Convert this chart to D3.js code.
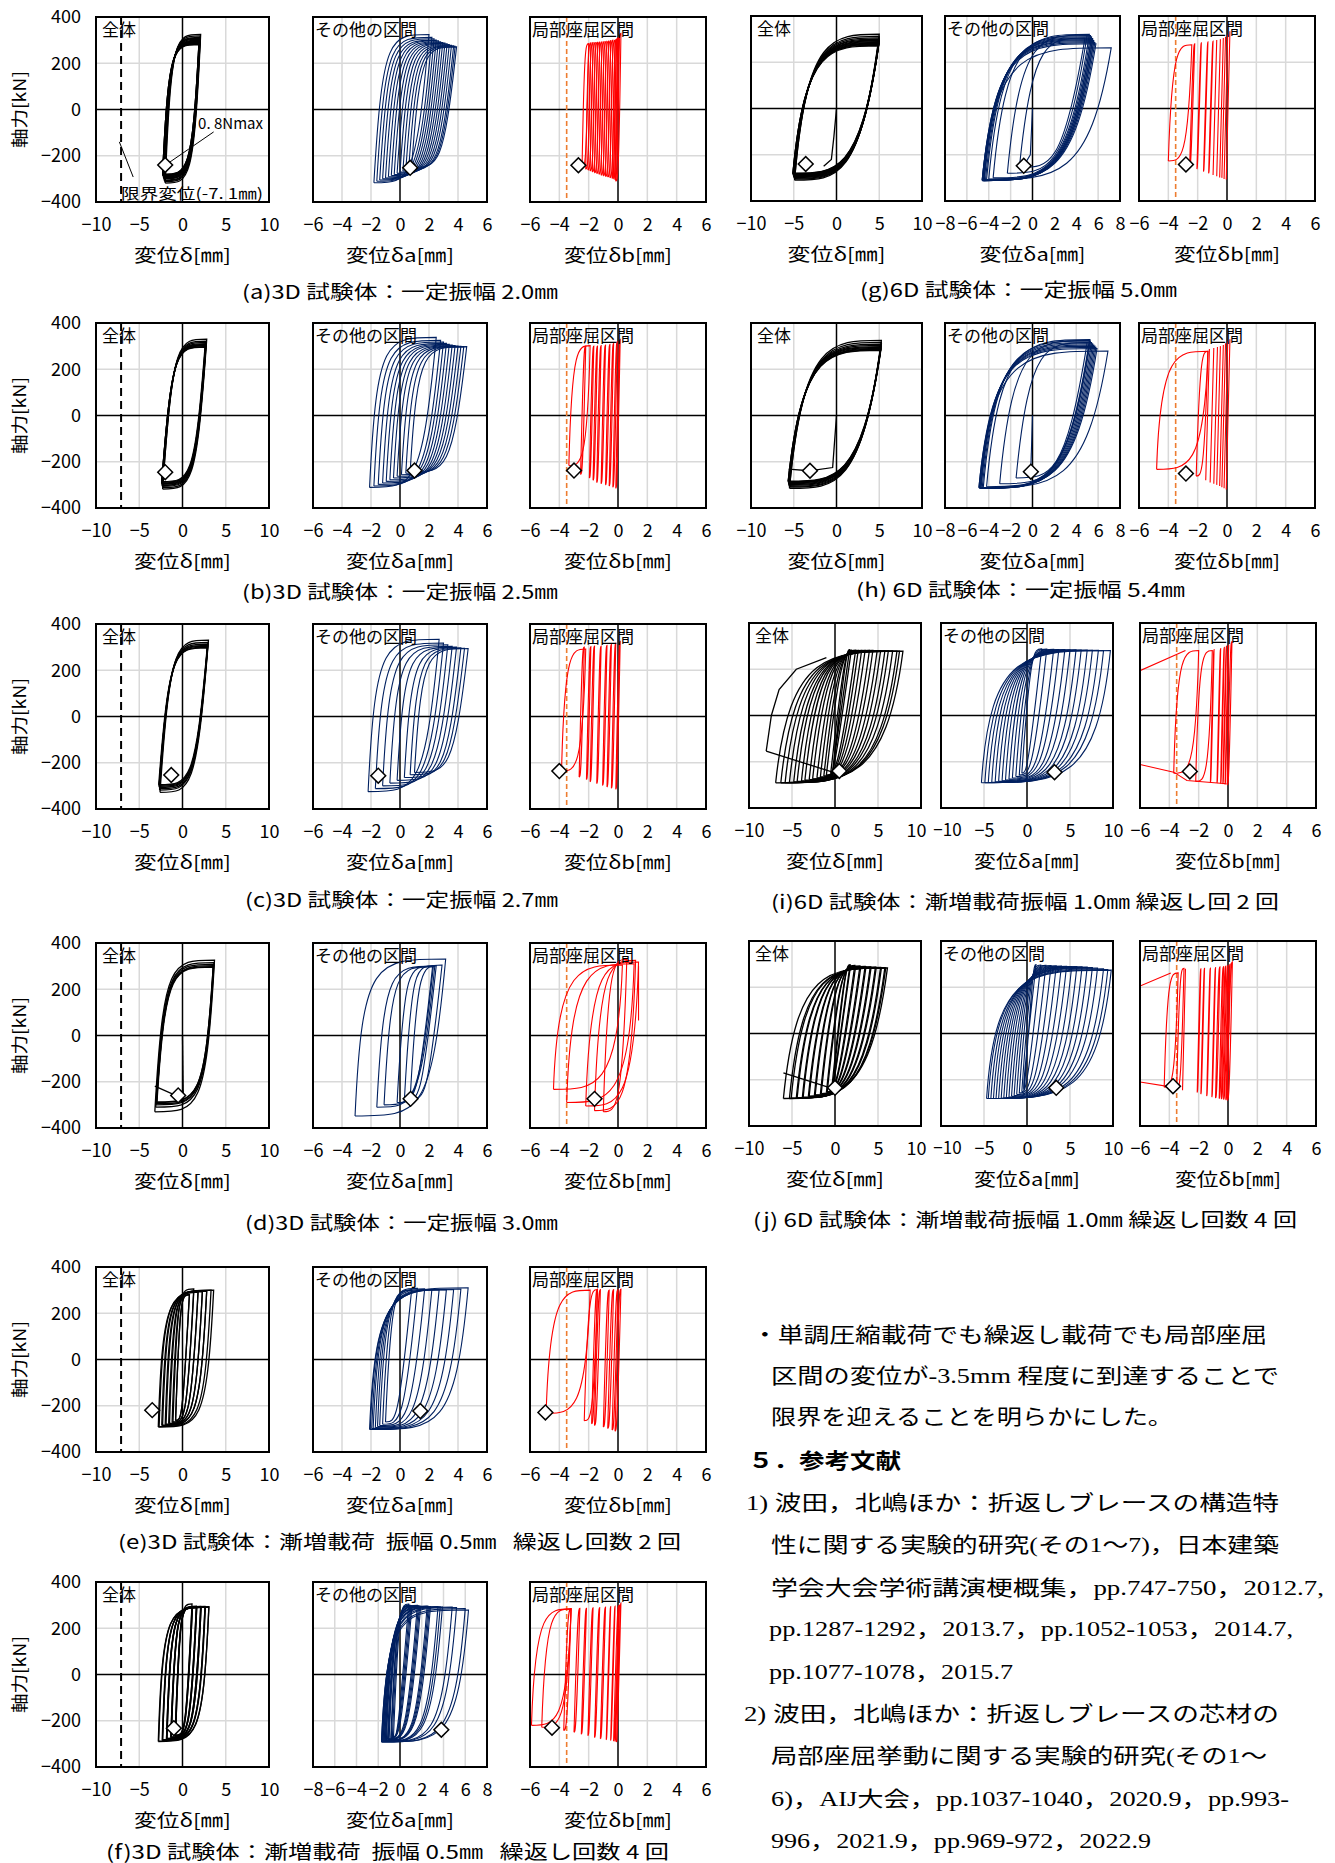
<!DOCTYPE html>
<html>
<head>
<meta charset="utf-8">
<script src="https://cdn.jsdelivr.net/npm/d3@7"></script>
<style>
body { margin: 0; background: #fff; }
svg text { white-space: pre; }
</style>
</head>
<body>
<div id="chart"></div>
<script>
// axis ticks and labels
const Y_TICKS = [-400, -200, 0, 200, 400];
const X_TICKS_10 = [-10, -5, 0, 5, 10];
const X_TICKS_8 = [-8, -6, -4, -2, 0, 2, 4, 6, 8];
const X_TICKS_6 = [-6, -4, -2, 0, 2, 4, 6];
const PANEL_NAMES = ["全体", "その他の区間", "局部座屈区間"];
const X_TITLES = ["変位δ[㎜]", "変位δa[㎜]", "変位δb[㎜]"];
const Y_TITLE = "軸力[kN]";
const LIMIT_TOTAL = -7.1;   // 限界変位 (全体)
const LIMIT_LOCAL = -3.5;   // 局部座屈区間の限界

const GROUP_IDS = ["a", "b", "c", "d", "e", "f", "g", "h", "i", "j"];
const CAPTIONS = [
    "(a)3D 試験体：一定振幅 2.0㎜",
    "(b)3D 試験体：一定振幅 2.5㎜",
    "(c)3D 試験体：一定振幅 2.7㎜",
    "(d)3D 試験体：一定振幅 3.0㎜",
    "(e)3D 試験体：漸増載荷  振幅 0.5㎜   繰返し回数 2 回",
    "(f)3D 試験体：漸増載荷  振幅 0.5㎜   繰返し回数 4 回",
    "(g)6D 試験体：一定振幅 5.0㎜",
    "(h) 6D 試験体：一定振幅 5.4㎜",
    "(i)6D 試験体：漸増載荷振幅 1.0㎜ 繰返し回 2 回",
    "(j) 6D 試験体：漸増載荷振幅 1.0㎜ 繰返し回数 4 回"
];
const X_DOMAINS = [
    [[-10, 10], [-6, 6], [-6, 6]],
    [[-10, 10], [-6, 6], [-6, 6]],
    [[-10, 10], [-6, 6], [-6, 6]],
    [[-10, 10], [-6, 6], [-6, 6]],
    [[-10, 10], [-6, 6], [-6, 6]],
    [[-10, 10], [-8, 8], [-6, 6]],
    [[-10, 10], [-8, 8], [-6, 6]],
    [[-10, 10], [-8, 8], [-6, 6]],
    [[-10, 10], [-10, 10], [-6, 6]],
    [[-10, 10], [-10, 10], [-6, 6]]
];

// hysteresis loops, one row per cycle: [xLeft, xRight, yBottom, yTop]  (mm, kN)
const A1 = [[-2.0,2.1,-318,325],[-2.05,2.05,-312,318],[-2.1,2.05,-308,312],[-2.1,2.0,-305,308],[-2.15,2.0,-300,304],[-2.15,2.0,-298,300],[-2.2,2.0,-295,297],[-2.2,1.95,-292,294],[-2.2,1.95,-290,291],[-2.25,1.95,-288,289],[-2.25,1.95,-286,287],[-2.3,1.9,-284,285],[-2.3,1.9,-282,283],[-2.3,1.9,-280,281]];
const A2 = [[-1.8,2.0,-317,324],[-1.6,2.2,-310,312],[-1.4,2.35,-305,306],[-1.2,2.5,-300,300],[-1.0,2.65,-296,297],[-0.8,2.8,-291,293],[-0.6,2.95,-286,290],[-0.4,3.1,-281,287],[-0.2,3.25,-276,284],[0.0,3.4,-271,281],[0.2,3.55,-266,278],[0.4,3.7,-261,275],[0.6,3.8,-256,273],[0.8,3.9,-250,271]];
const A3 = [[-0.15,0.2,-310,330],[-0.2,0.1,-305,315],[-0.3,0.0,-300,310],[-0.4,-0.1,-298,305],[-0.55,-0.2,-295,300],[-0.7,-0.35,-292,300],[-0.85,-0.5,-290,298],[-1.0,-0.65,-287,296],[-1.15,-0.8,-284,295],[-1.3,-0.95,-280,294],[-1.45,-1.1,-277,293],[-1.6,-1.25,-274,292],[-1.75,-1.4,-270,291],[-1.9,-1.55,-266,290],[-2.05,-1.7,-262,289],[-2.2,-1.85,-258,288],[-2.45,-2.0,-252,285]];
const B1 = [[-2.3,2.8,-318,330],[-2.3,2.75,-312,322],[-2.35,2.75,-306,316],[-2.35,2.7,-302,311],[-2.35,2.7,-298,307],[-2.4,2.7,-295,304],[-2.4,2.65,-292,301],[-2.4,2.65,-289,298],[-2.4,2.6,-286,296]];
const B2 = [[-2.1,2.5,-311,338],[-1.8,2.8,-305,325],[-1.5,3.0,-298,318],[-1.2,3.2,-292,312],[-0.95,3.4,-285,308],[-0.7,3.6,-278,305],[-0.45,3.8,-270,302],[-0.2,4.0,-263,300],[0.1,4.2,-256,299],[0.4,4.4,-250,298],[0.7,4.6,-245,298]];
const B3 = [[-0.15,0.15,-315,330],[-0.35,-0.05,-310,320],[-0.6,-0.3,-305,312],[-0.85,-0.55,-300,308],[-1.15,-0.85,-295,305],[-1.45,-1.15,-290,302],[-1.7,-1.4,-280,300],[-1.95,-1.65,-270,300],[-2.55,-2.2,-255,300],[-3.35,-1.9,-216,302]];
const C1 = [[-2.6,3.0,-328,330],[-2.65,2.95,-318,320],[-2.65,2.95,-312,313],[-2.7,2.9,-306,308],[-2.7,2.9,-302,304],[-2.7,2.9,-298,300],[-2.75,2.85,-295,297]];
const C2 = [[-2.2,2.7,-325,334],[-1.7,3.0,-312,318],[-1.2,3.3,-300,310],[-0.7,3.6,-288,304],[-0.2,3.9,-276,300],[0.3,4.2,-264,297],[0.7,4.45,-252,295],[1.0,4.7,-242,294]];
const C3 = [[-0.15,0.15,-315,325],[-0.45,-0.15,-310,318],[-0.75,-0.45,-305,312],[-1.05,-0.75,-298,308],[-1.45,-1.15,-290,305],[-1.9,-1.6,-282,305],[-2.15,-1.85,-272,303],[-2.65,-2.3,-262,300],[-3.85,-2.2,-236,292]];
const D1 = [[-3.2,3.7,-330,326],[-3.1,3.65,-310,315],[-3.05,3.6,-300,308],[-3.0,3.6,-295,302],[-3.0,3.55,-290,298],[-2.95,3.55,-287,296]];
const D2 = [[-3.1,3.15,-348,331],[-1.6,2.4,-310,300],[-1.1,2.3,-300,298],[-0.2,2.25,-290,300],[0.3,2.5,-282,302],[0.7,2.9,-275,305]];
const D3 = [[-1.0,0.6,-330,330],[-1.6,1.2,-325,325],[-2.2,1.4,-305,318],[-3.5,1.1,-290,310],[-4.4,0.3,-233,305]];
const E1 = [[-0.8,0.8,-263,280],[-0.8,0.8,-265,282],[-1.1,1.3,-270,305],[-1.2,1.3,-272,290],[-1.5,1.8,-276,295],[-1.6,1.8,-278,292],[-1.9,2.3,-280,297],[-2.0,2.3,-282,294],[-2.3,2.8,-284,298],[-2.4,2.8,-286,296],[-2.7,3.3,-290,300],[-2.8,3.6,-292,300]];
const E2 = [[-1.0,0.8,-270,300],[-1.2,1.2,-280,308],[-1.4,1.7,-286,306],[-1.55,2.2,-290,304],[-1.7,2.7,-294,302],[-1.85,3.2,-297,302],[-1.95,3.7,-299,303],[-2.05,4.2,-301,305],[-2.1,4.7,-303,310]];
const E3 = [[-0.2,0.2,-310,305],[-0.4,0.0,-305,303],[-0.7,-0.3,-298,302],[-1.0,-0.6,-292,300],[-1.6,-1.2,-285,302],[-1.8,-1.4,-278,305],[-2.3,-1.4,-265,303],[-4.9,-1.9,-233,300]];
const F1 = [[-0.8,1.1,-262,305],[-0.8,1.1,-265,292],[-0.85,1.15,-266,290],[-0.85,1.15,-267,289],[-1.3,1.6,-270,296],[-1.3,1.6,-272,292],[-1.35,1.65,-273,291],[-1.35,1.65,-274,290],[-1.8,2.1,-276,294],[-1.8,2.1,-278,292],[-1.85,2.15,-279,291],[-1.85,2.15,-280,290],[-2.3,2.6,-282,294],[-2.3,2.6,-284,292],[-2.35,2.65,-285,291],[-2.75,3.05,-288,293],[-2.8,3.05,-290,291]];
const F2 = [[-0.6,0.8,-270,305],[-0.7,0.9,-272,300],[-0.8,1.0,-274,298],[-0.85,1.1,-276,297],[-1.0,1.6,-278,299],[-1.05,1.7,-280,297],[-1.1,1.8,-281,296],[-1.15,1.9,-282,295],[-1.25,2.5,-284,296],[-1.3,2.6,-285,295],[-1.35,2.7,-286,294],[-1.4,2.8,-287,294],[-1.45,3.5,-288,294],[-1.5,3.7,-289,293],[-1.55,3.9,-290,292],[-1.6,4.8,-290,292],[-1.65,5.2,-291,290],[-1.7,6.0,-292,285],[-1.7,6.3,-292,279]];
const F3 = [[-0.1,0.2,-292,310],[-0.2,0.1,-290,300],[-0.3,0.05,-288,298],[-0.5,-0.2,-285,296],[-0.8,-0.5,-282,294],[-1.2,-0.85,-278,292],[-1.6,-1.25,-272,290],[-2.05,-1.7,-265,288],[-2.5,-2.15,-258,286],[-3.0,-2.6,-250,286],[-3.7,-3.2,-242,285],[-5.2,-3.2,-228,284],[-5.9,-3.2,-220,284]];
const G1 = [[-4.9,5.0,-310,321],[-4.9,5.0,-305,312],[-4.95,5.0,-302,305],[-4.95,5.0,-299,300],[-5.0,5.0,-296,296],[-5.0,5.0,-294,292],[-5.0,4.95,-292,289],[-5.05,4.95,-290,286],[-5.05,4.95,-288,283],[-5.05,4.95,-286,280],[-5.1,4.95,-284,277],[-5.1,4.9,-282,274],[-5.1,4.9,-280,271]];
const G2 = [[-1.2,4.8,-255,305],[-2.3,5.0,-280,318],[-3.6,5.2,-300,321],[-4.0,5.3,-305,315],[-4.2,5.4,-308,310],[-4.3,5.4,-310,306],[-4.4,5.5,-311,302],[-4.45,5.5,-312,298],[-4.5,5.6,-312,294],[-4.55,5.6,-312,290],[-4.6,5.7,-312,285],[-4.6,5.8,-310,280],[-4.6,7.2,-308,263]];
const G3 = [[-0.05,0.2,-307,334],[-0.2,0.05,-305,320],[-0.35,-0.1,-300,310],[-0.5,-0.25,-298,305],[-0.7,-0.45,-293,300],[-0.95,-0.7,-288,296],[-1.25,-0.95,-280,292],[-1.6,-1.3,-272,288],[-2.05,-1.75,-262,284],[-2.55,-2.2,-256,280],[-4.0,-2.4,-227,276]];
const H1 = [[-5.5,5.25,-315,325],[-5.5,5.25,-310,316],[-5.55,5.25,-306,309],[-5.55,5.2,-302,303],[-5.6,5.2,-298,298],[-5.6,5.2,-295,294],[-5.6,5.2,-292,290],[-5.65,5.2,-289,287],[-5.65,5.15,-286,284],[-5.65,5.15,-284,282]];
const H2 = [[-1.5,5.0,-270,315],[-3.0,5.2,-295,325],[-4.2,5.25,-308,328],[-4.5,5.3,-312,322],[-4.6,5.4,-314,316],[-4.7,5.5,-315,310],[-4.75,5.6,-315,305],[-4.8,5.7,-315,300],[-4.85,5.8,-314,295],[-4.9,5.9,-313,290],[-4.9,6.9,-312,279]];
const H3 = [[-0.05,0.2,-320,330],[-0.2,0.05,-315,320],[-0.35,-0.1,-310,312],[-0.5,-0.25,-305,305],[-0.7,-0.45,-300,300],[-0.9,-0.65,-295,296],[-1.15,-0.9,-290,292],[-1.45,-1.2,-280,288],[-2.1,-1.3,-262,278],[-4.8,-1.3,-233,278]];
const I1 = [[-0.3,1.7,-248,285],[-0.5,1.9,-250,283],[-1.0,2.4,-258,283],[-1.3,2.7,-262,282],[-1.7,3.1,-266,282],[-2.1,3.5,-270,281],[-2.6,4.0,-274,281],[-3.0,4.4,-277,281],[-3.5,4.9,-280,280],[-3.9,5.3,-283,280],[-4.4,5.8,-285,279],[-4.8,6.2,-287,279],[-5.3,6.7,-289,279],[-5.8,7.2,-290,278],[-6.3,7.5,-291,278],[-6.9,7.9,-291,278]];
const I2 = [[-0.6,1.7,-250,288],[-0.9,2.3,-258,287],[-1.3,3.1,-264,286],[-1.7,3.7,-270,285],[-2.1,4.4,-275,285],[-2.5,5.0,-279,284],[-2.9,5.7,-282,284],[-3.3,6.3,-285,283],[-3.7,7.0,-287,283],[-4.1,7.6,-289,282],[-4.5,8.3,-290,282],[-4.9,8.9,-291,281],[-5.3,9.7,-291,281]];
const I3 = [[-0.05,0.27,-300,320],[-0.2,0.05,-298,305],[-0.35,-0.1,-296,300],[-0.5,-0.25,-294,295],[-0.75,-0.5,-292,290],[-1.2,-0.95,-290,285],[-2.2,-1.07,-285,281],[-3.7,-2.0,-250,281]];
const J1 = [[-0.3,1.75,-242,298],[-0.4,1.8,-245,292],[-0.9,2.3,-252,294],[-1.0,2.4,-255,290],[-1.6,2.9,-260,292],[-1.7,3.0,-262,289],[-2.3,3.5,-266,290],[-2.4,3.6,-268,288],[-3.0,4.1,-271,288],[-3.1,4.2,-273,287],[-3.7,4.7,-275,287],[-3.8,4.8,-277,286],[-4.4,5.3,-278,286],[-4.5,5.4,-279,285],[-5.1,5.8,-280,285],[-5.3,5.9,-281,284],[-6.0,6.1,-281,284]];
const J2 = [[-0.3,1.05,-245,298],[-0.6,1.6,-252,296],[-0.9,2.2,-258,295],[-1.2,2.8,-264,294],[-1.5,3.4,-268,293],[-1.8,4.0,-272,292],[-2.1,4.6,-275,291],[-2.4,5.2,-277,290],[-2.7,5.8,-279,289],[-3.0,6.4,-280,288],[-3.3,7.0,-281,287],[-3.6,7.6,-281,285],[-3.9,8.2,-281,283],[-4.2,8.9,-281,280],[-4.5,9.4,-281,277],[-4.7,9.8,-281,274]];
const J3 = [[-0.05,0.3,-289,310],[-0.15,0.15,-287,300],[-0.3,0.0,-285,295],[-0.45,-0.15,-283,292],[-0.6,-0.3,-281,290],[-0.85,-0.55,-279,288],[-1.1,-0.85,-275,285],[-1.45,-1.2,-270,283],[-1.85,-1.6,-262,282],[-2.1,-1.85,-255,280],[-3.1,-2.9,-245,280],[-3.5,-3.0,-240,282],[-4.35,-3.4,-232,262]];

// unloading / reloading widths per panel: [eUp, eDown, roundness]
const SHAPES = [
    [[0.7, 0.8, 0.15], [0.6, 0.9, 0.15], [0.15, 0.15, 0.35]],
    [[1.2, 1.2, 0.15], [0.5, 1.0, 0.15], [0.2, 0.2, 0.35]],
    [[1.2, 1.4, 0.15], [0.5, 1.0, 0.15], [0.2, 0.2, 0.35]],
    [[1.0, 1.0, 0.15], [0.5, 1.0, 0.15], [0.3, 0.3, 0.35]],
    [[0.5, 0.8, 0.15], [0.4, 0.9, 0.2], [0.25, 0.25, 0.35]],
    [[0.5, 0.7, 0.15], [0.5, 1.0, 0.2], [0.25, 0.25, 0.35]],
    [[1.4, 2.2, 0.35], [1.2, 2.0, 0.3], [0.25, 0.25, 0.35]],
    [[1.6, 2.3, 0.35], [1.2, 2.0, 0.3], [0.25, 0.25, 0.35]],
    [[1.6, 2.0, 0.35], [1.0, 1.6, 0.3], [0.2, 0.2, 0.35]],
    [[1.5, 2.0, 0.35], [1.0, 1.6, 0.3], [0.2, 0.2, 0.35]]
];

// 0.8Nmax points (◇)
const DIAMONDS = [
    [[-2.0, -240], [0.7, -252], [-2.7, -241]],
    [[-2.0, -245], [1.0, -238], [-3.0, -238]],
    [[-1.3, -253], [-1.5, -256], [-4.0, -236]],
    [[-0.5, -259], [0.73, -274], [-1.6, -274]],
    [[-3.5, -219], [1.4, -223], [-4.95, -229]],
    [[-1.0, -232], [3.8, -239], [-4.5, -230]],
    [[-3.6, -240], [-0.8, -248], [-2.8, -242]],
    [[-3.1, -239], [-0.15, -243], [-2.8, -251]],
    [[0.5, -240], [3.2, -245], [-2.6, -242]],
    [[0.0, -235], [3.4, -235], [-3.75, -228]]
];

// open traces that are not closed cycles: [group, panel, points]
const EXTRAS = [
    ["d", 0, [[0, 0], [0.1, -290]]],
    ["d", 0, [[-3.2, -219], [-0.6, -262]]],
    ["d", 2, [[1.4, 300], [1.4, 65]]],
    ["g", 0, [[0, 0], [-0.3, -120], [-0.6, -220], [-1.5, -250]]],
    ["g", 1, [[0, 0], [-0.2, -200], [-0.8, -248]]],
    ["h", 0, [[0, 0], [-0.45, -225], [-3.2, -239], [-5.6, -232]]],
    ["h", 1, [[0, 0], [-0.15, -222]]],
    ["i", 0, [[-8.0, -154], [0, -248]]],
    ["i", 0, [[-8.0, -154], [-7.4, 0], [-6.5, 112], [-4.5, 200], [-1.0, 250]]],
    ["i", 2, [[-2.9, 281], [-6.0, 194], [-6.5, 185]]],
    ["i", 2, [[-0.1, -295], [-2.8, -281], [-3.7, -245], [-6.0, -212], [-6.5, -205]]],
    ["j", 0, [[-6.0, -170], [0, -242]]],
    ["j", 2, [[-3.9, 262], [-6.0, 205], [-6.5, 190]]],
    ["j", 2, [[-3.8, -232], [-6.0, -210], [-6.5, -205]]]
];

const BODY_LINES = [
    "・単調圧縮載荷でも繰返し載荷でも局部座屈",
    "区間の変位が-3.5mm 程度に到達することで",
    "限界を迎えることを明らかにした。",
    "５．参考文献",
    "1) 波田，北嶋ほか：折返しブレースの構造特",
    "性に関する実験的研究(その1～7)，日本建築",
    "学会大会学術講演梗概集，pp.747-750，2012.7,",
    "pp.1287-1292，2013.7，pp.1052-1053，2014.7,",
    "pp.1077-1078，2015.7",
    "2) 波田，北嶋ほか：折返しブレースの芯材の",
    "局部座屈挙動に関する実験的研究(その1～",
    "6)，AIJ大会，pp.1037-1040，2020.9，pp.993-",
    "996，2021.9，pp.969-972，2022.9"
];

const LOOPS = [
    [A1, A2, A3], [B1, B2, B3], [C1, C2, C3], [D1, D2, D3], [E1, E2, E3],
    [F1, F2, F3], [G1, G2, G3], [H1, H2, H3], [I1, I2, I3], [J1, J2, J3]
];

// ---------- layout ----------
const FONT = "'Noto Sans CJK JP', 'Noto Sans', sans-serif";
const SERIF = "'Liberation Serif', 'Noto Sans CJK JP', serif";
const COLORS = ["#000000", "#002060", "#ff0000"];
const PANEL_H = 185;
const LEFT_X = [[96, 269], [313, 487], [530, 706]];
const RIGHT_X = [[751, 922], [945, 1120], [1139, 1315]];
const RIGHT_X2 = [[749, 921], [941, 1113], [1140, 1316]];
const GROUP_LAYOUT = [
    {top: 17, xs: LEFT_X, cap: [242, 558, 292], yLabels: true},
    {top: 323, xs: LEFT_X, cap: [242, 558, 592], yLabels: true},
    {top: 624, xs: LEFT_X, cap: [245, 558, 900], yLabels: true},
    {top: 943, xs: LEFT_X, cap: [245, 558, 1223], yLabels: true},
    {top: 1267, xs: LEFT_X, cap: [118, 681, 1542], yLabels: true},
    {top: 1582, xs: LEFT_X, cap: [106, 669, 1852], yLabels: true},
    {top: 16, xs: RIGHT_X, cap: [860, 1177, 290], yLabels: false},
    {top: 323, xs: RIGHT_X, cap: [856, 1185, 590], yLabels: false},
    {top: 623, xs: RIGHT_X2, cap: [771, 1279, 902], yLabels: false, tight: true},
    {top: 941, xs: RIGHT_X2, cap: [753, 1297, 1220], yLabels: false, tight: true}
];
const TITLE_W = [[97, 108, 108], [98, 106, 106]];
const BODY_LAYOUT = [
    [752, 1267, 1342], [771, 1279, 1383], [771, 1173, 1424], [748, 901, 1468],
    [746, 1279, 1510], [771, 1279, 1552], [771, 1324, 1595], [769, 1293, 1636],
    [769, 1013, 1679], [744, 1279, 1721], [771, 1267, 1763], [771, 1289, 1806],
    [771, 1151, 1848]
];

const svg = d3.select("#chart").append("svg")
    .attr("width", 1335)
    .attr("height", 1863)
    .style("font-family", FONT);

function ticksFor(domain) {
    const span = domain[1] - domain[0];
    if (span === 20) return X_TICKS_10;
    if (span === 16) return X_TICKS_8;
    return X_TICKS_6;
}

// one hysteresis cycle: reloading branch then unloading branch
function loopPath(x, y, d, shape) {
    const [xL, xR, yB, yT] = d;
    const [eUp, eDn, r] = shape;
    const p = d3.path();
    p.moveTo(x(xL), y(yB));
    p.bezierCurveTo(x(xL + eUp), y(yT), x(xL + eUp + r * (xR - xL - eUp)), y(yT), x(xR), y(yT));
    p.bezierCurveTo(x(xR - eDn), y(yB), x(xR - eDn - r * (xR - xL - eDn)), y(yB), x(xL), y(yB));
    return p.toString();
}

function drawPanel(gi, k) {
    const lay = GROUP_LAYOUT[gi];
    const id = GROUP_IDS[gi];
    const [x0, x1] = lay.xs[k];
    const top = lay.top, bottom = lay.top + PANEL_H;
    const domain = X_DOMAINS[gi][k];
    const xTicks = ticksFor(domain);
    const x = d3.scaleLinear().domain(domain).range([x0, x1]);
    const y = d3.scaleLinear().domain([-400, 400]).range([bottom, top]);
    const panel = svg.append("g");

    const clipId = `clip-${id}${k}`;
    panel.append("clipPath").attr("id", clipId)
        .append("rect")
        .attr("x", x0).attr("y", top)
        .attr("width", x1 - x0).attr("height", PANEL_H);

    // grid
    panel.append("g").selectAll("line")
        .data(xTicks.filter(v => v !== 0))
        .join("line")
        .attr("x1", d => x(d)).attr("x2", d => x(d))
        .attr("y1", top).attr("y2", bottom)
        .attr("stroke", "#d9d9d9").attr("stroke-width", 1.5);
    panel.append("g").selectAll("line")
        .data(Y_TICKS.filter(v => v !== 0 && Math.abs(v) !== 400))
        .join("line")
        .attr("x1", x0).attr("x2", x1)
        .attr("y1", d => y(d)).attr("y2", d => y(d))
        .attr("stroke", "#d9d9d9").attr("stroke-width", 1.5);

    // zero axes
    panel.append("line")
        .attr("x1", x(0)).attr("x2", x(0)).attr("y1", top).attr("y2", bottom)
        .attr("stroke", "#000").attr("stroke-width", 1.5);
    panel.append("line")
        .attr("x1", x0).attr("x2", x1).attr("y1", y(0)).attr("y2", y(0))
        .attr("stroke", "#000").attr("stroke-width", 1.5);

    const plot = panel.append("g").attr("clip-path", `url(#${clipId})`);

    // limit lines
    if (k === 0 && lay.yLabels) {
        plot.append("line")
            .attr("x1", x(LIMIT_TOTAL)).attr("x2", x(LIMIT_TOTAL))
            .attr("y1", top).attr("y2", bottom)
            .attr("stroke", "#000").attr("stroke-width", 2)
            .attr("stroke-dasharray", "8,5");
    }
    if (k === 2) {
        plot.append("line")
            .attr("x1", x(LIMIT_LOCAL)).attr("x2", x(LIMIT_LOCAL))
            .attr("y1", top).attr("y2", bottom)
            .attr("stroke", "#ed7d31").attr("stroke-width", 1.6)
            .attr("stroke-dasharray", "5,3");
    }

    // hysteresis loops
    const shape = SHAPES[gi][k];
    plot.append("g").selectAll("path")
        .data(LOOPS[gi][k])
        .join("path")
        .attr("d", d => loopPath(x, y, d, shape))
        .attr("fill", "none")
        .attr("stroke", COLORS[k])
        .attr("stroke-width", k === 0 ? 1.3 : 1.1);

    const line = d3.line().x(d => x(d[0])).y(d => y(d[1]));
    plot.append("g").selectAll("path")
        .data(EXTRAS.filter(e => e[0] === id && e[1] === k))
        .join("path")
        .attr("d", d => line(d[2]))
        .attr("fill", "none")
        .attr("stroke", COLORS[k])
        .attr("stroke-width", k === 0 ? 1.3 : 1.1);

    // frame
    panel.append("rect")
        .attr("x", x0).attr("y", top)
        .attr("width", x1 - x0).attr("height", PANEL_H)
        .attr("fill", "none").attr("stroke", "#000").attr("stroke-width", 2);

    // annotations for (a) 全体
    if (gi === 0 && k === 0) {
        panel.append("path")
            .attr("d", line([[3.6, -97], [-1.8, -236]]))
            .attr("stroke", "#000").attr("stroke-width", 1);
        panel.append("path")
            .attr("d", line([[-7.3, -140], [-5.7, -292]]))
            .attr("stroke", "#000").attr("stroke-width", 1);
        panel.append("text")
            .attr("x", x(1.8)).attr("y", y(-84))
            .attr("font-size", 15)
            .attr("textLength", 65).attr("lengthAdjust", "spacingAndGlyphs")
            .text("0. 8Nmax");
        panel.append("text")
            .attr("x", x(-7.1)).attr("y", y(-385))
            .attr("font-size", 15)
            .attr("textLength", 142).attr("lengthAdjust", "spacingAndGlyphs")
            .text("限界変位(-7. 1㎜)");
    }

    // 0.8Nmax marker
    const dm = DIAMONDS[gi][k];
    panel.append("path")
        .attr("d", d3.symbol(d3.symbolSquare, 110)())
        .attr("transform", `translate(${x(dm[0])},${y(dm[1])}) rotate(45)`)
        .attr("fill", "#fff").attr("stroke", "#000").attr("stroke-width", 1.5);

    // panel name
    panel.append("text")
        .attr("x", x0 + (k === 0 ? 6 : 2)).attr("y", top + 19)
        .attr("font-size", 17)
        .text(PANEL_NAMES[k]);

    // x axis
    const xAxis = panel.append("g")
        .attr("transform", `translate(0,${bottom})`)
        .call(d3.axisBottom(x).tickValues(xTicks).tickSize(0).tickPadding(16))
        .attr("font-size", 18).attr("font-family", FONT);
    xAxis.select(".domain").remove();
    xAxis.selectAll("text").attr("fill", "#000");
    if (lay.tight) {
        // neighbouring end labels sit very close: nudge them apart
        if (k === 0) xAxis.selectAll(".tick:last-of-type text").attr("dx", -5);
        if (k === 1) xAxis.selectAll(".tick:first-of-type text").attr("dx", 6)
            .attr("font-size", 17);
    }

    panel.append("text")
        .attr("x", (x0 + x1) / 2).attr("y", bottom + 60)
        .attr("text-anchor", "middle")
        .attr("font-size", 18)
        .attr("textLength", TITLE_W[lay.yLabels ? 0 : 1][k]).attr("lengthAdjust", "spacingAndGlyphs")
        .text(X_TITLES[k]);

    if (lay.yLabels && k === 0) {
        const yAxis = panel.append("g")
            .attr("transform", `translate(${x0},0)`)
            .call(d3.axisLeft(y).tickValues(Y_TICKS).tickSize(0).tickPadding(15))
            .attr("font-size", 18).attr("font-family", FONT);
        yAxis.select(".domain").remove();
        yAxis.selectAll("text").attr("fill", "#000");
        panel.append("text")
            .attr("transform", `translate(26,${(top + bottom) / 2}) rotate(-90)`)
            .attr("text-anchor", "middle")
            .attr("font-size", 17)
            .attr("textLength", 77).attr("lengthAdjust", "spacingAndGlyphs")
            .text(Y_TITLE);
    }
}

GROUP_IDS.forEach((id, gi) => {
    [0, 1, 2].forEach(k => drawPanel(gi, k));
    const [c0, c1, cy] = GROUP_LAYOUT[gi].cap;
    svg.append("text")
        .attr("x", c0).attr("y", cy + 7)
        .attr("font-size", 19)
        .attr("textLength", c1 - c0).attr("lengthAdjust", "spacingAndGlyphs")
        .text(CAPTIONS[gi]);
});

// body text
svg.append("g").selectAll("text")
    .data(BODY_LINES)
    .join("text")
    .attr("x", (d, i) => BODY_LAYOUT[i][0])
    .attr("y", (d, i) => BODY_LAYOUT[i][2])
    .attr("font-size", 21)
    .attr("font-family", (d, i) => i === 3 ? FONT : SERIF)
    .attr("font-weight", (d, i) => i === 3 ? "bold" : "normal")
    .attr("textLength", (d, i) => BODY_LAYOUT[i][1] - BODY_LAYOUT[i][0])
    .attr("lengthAdjust", "spacingAndGlyphs")
    .text(d => d);
</script>
</body>
</html>
